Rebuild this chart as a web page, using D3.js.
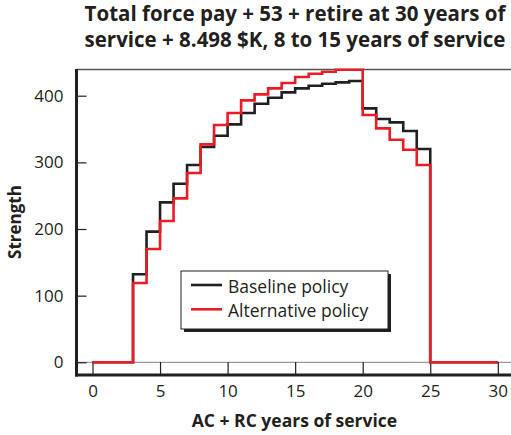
<!DOCTYPE html>
<html>
<head>
<meta charset="utf-8">
<script src="https://cdn.jsdelivr.net/npm/d3@7"></script>
<style>
  body { margin: 0; background: #fff; }
  text { font-family: "Open Sans", "Noto Sans", sans-serif; fill: #231f20; }
</style>
</head>
<body>
<div id="chart"></div>
<script>
// year of service at the start of each step (last entry closes the step)
const years = [0,1,2,3,4,5,6,7,8,9,10,11,12,13,14,15,16,17,18,19,20,21,22,23,24,25,26,27,28,29,30];
const baseline = [0,0,0,132,196,240,268,296,323,340,357,374,388,397,405,411,415,418,420,422,381,365,360,347,320,0,0,0,0,0,0];
const alternative = [0,0,0,119,170,212,246,284,327,356,374,393,402,411,419,428,433,436,439,439,371,351,334,319,296,0,0,0,0,0,0];
const seriesNames = ["Baseline policy", "Alternative policy"];
const seriesColors = ["#231f20", "#ed1c24"];
const xTicks = [0,5,10,15,20,25,30];
const yTicks = [0,100,200,300,400];
const titleLines = ["Total force pay + 53 + retire at 30 years of", "service + 8.498 $K, 8 to 15 years of service"];

function render_chart(div) {
    let w = 511, h = 435;
    let left = 76.5, top = 69, bottom = 375;

    let svg = d3.select("#" + div)
        .append("svg")
        .attr("width", w)
        .attr("height", h);

    let x = d3.scaleLinear().domain([0, 30]).range([92.5, 497.8]);
    let y = d3.scaleLinear().domain([0, 400]).range([362.3, 95.7]);

    // title
    svg.append("text")
        .attr("text-anchor", "middle")
        .style("font-size", "20.5px")
        .style("font-weight", "bold")
        .selectAll("tspan")
        .data(titleLines)
        .enter()
        .append("tspan")
        .attr("x", 295)
        .attr("y", function (d, i) { return 21 + i * 25.5; })
        .text(function (d) { return d; });

    // zero line and top frame
    svg.append("line")
        .attr("x1", left).attr("x2", w)
        .attr("y1", y(0)).attr("y2", y(0))
        .style("stroke", "#9a9a9a").style("stroke-width", 1.2);
    svg.append("line")
        .attr("x1", left).attr("x2", w)
        .attr("y1", top + 0.5).attr("y2", top + 0.5)
        .style("stroke", "#555").style("stroke-width", 1.5);

    // axes
    let yAxis = svg.append("g")
        .attr("transform", "translate(" + left + ",0)")
        .call(d3.axisLeft(y).tickValues(yTicks).tickSize(-10).tickPadding(13));
    let xAxis = svg.append("g")
        .attr("transform", "translate(0," + bottom + ")")
        .call(d3.axisBottom(x).tickValues(xTicks).tickSize(-13).tickPadding(10.2));
    [xAxis, yAxis].forEach(function (g) {
        g.select(".domain").remove();
        g.selectAll(".tick line").style("stroke", "#231f20").style("stroke-width", 1.2);
        g.selectAll(".tick text")
            .style("font-family", '"Open Sans", "Noto Sans", sans-serif')
            .style("font-size", "17px")
            .style("fill", "#231f20");
    });

    svg.append("line")
        .attr("x1", left).attr("x2", left)
        .attr("y1", top).attr("y2", bottom + 1.5)
        .style("stroke", "#231f20").style("stroke-width", 3);
    svg.append("line")
        .attr("x1", left - 1.5).attr("x2", w)
        .attr("y1", bottom).attr("y2", bottom)
        .style("stroke", "#231f20").style("stroke-width", 3);

    // axis titles
    svg.append("text")
        .attr("x", 294.5)
        .attr("y", 427)
        .attr("text-anchor", "middle")
        .style("font-size", "17.5px")
        .style("font-weight", "bold")
        .text("AC + RC years of service");
    svg.append("text")
        .attr("transform", "translate(21,222) rotate(-90)")
        .attr("text-anchor", "middle")
        .style("font-size", "17px")
        .style("font-weight", "bold")
        .text("Strength");

    // step lines
    let line = d3.line()
        .x(function (d) { return x(d[0]); })
        .y(function (d) { return y(d[1]); })
        .curve(d3.curveStepAfter);

    [baseline, alternative].forEach(function (vals, i) {
        svg.append("path")
            .datum(years.map(function (yr, k) { return [yr, vals[k]]; }))
            .attr("d", line)
            .style("fill", "none")
            .style("stroke", seriesColors[i])
            .style("stroke-width", 2.6);
    });

    // legend
    let legend = svg.append("g").attr("transform", "translate(181,271)");
    legend.append("rect")
        .attr("x", 3).attr("y", 3)
        .attr("width", 207).attr("height", 58)
        .style("fill", "#231f20");
    legend.append("rect")
        .attr("width", 207).attr("height", 58)
        .style("fill", "#fff")
        .style("stroke", "#231f20")
        .style("stroke-width", 1);
    let item = legend.selectAll(".legend")
        .data(seriesNames)
        .enter()
        .append("g")
        .attr("class", "legend")
        .attr("transform", function (d, i) { return "translate(0," + (14 + i * 24.3) + ")"; });
    item.append("line")
        .attr("x1", 10).attr("x2", 41)
        .style("stroke", function (d, i) { return seriesColors[i]; })
        .style("stroke-width", 2.6);
    item.append("text")
        .attr("x", 47)
        .attr("y", 7.5)
        .style("font-size", "17.5px")
        .text(function (d) { return d; });
}

render_chart("chart");
</script>
</body>
</html>
